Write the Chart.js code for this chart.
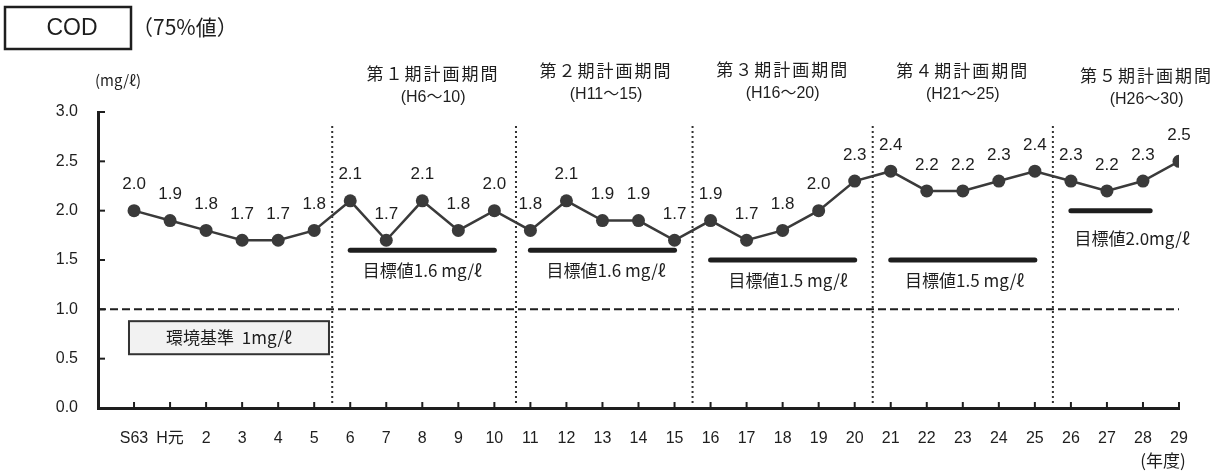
<!DOCTYPE html>
<html>
<head>
<meta charset="utf-8">
<script src="https://cdn.jsdelivr.net/npm/chart.js@4.4.1/dist/chart.umd.min.js"></script>
<style>
  html, body { margin: 0; padding: 0; background: #fff; }
  #wrap { width: 1215px; height: 472px; position: relative; }
</style>
</head>
<body>
<div id="wrap"><canvas id="codChart"></canvas></div>
<script>
// 年度 (x axis)
const years = ['S63', 'H元', '2', '3', '4', '5', '6', '7', '8', '9', '10',
    '11', '12', '13', '14', '15', '16', '17', '18', '19', '20',
    '21', '22', '23', '24', '25', '26', '27', '28', '29'];

// COD 75%値 (mg/ℓ)
const cod75 = [2.0, 1.9, 1.8, 1.7, 1.7, 1.8, 2.1, 1.7, 2.1, 1.8, 2.0,
    1.8, 2.1, 1.9, 1.9, 1.7, 1.9, 1.7, 1.8, 2.0, 2.3,
    2.4, 2.2, 2.2, 2.3, 2.4, 2.3, 2.2, 2.3, 2.5];

const yTicks = [0, 0.5, 1.0, 1.5, 2.0, 2.5, 3.0];

// 計画期間
const periodNames = ['第１期計画期間', '第２期計画期間', '第３期計画期間', '第４期計画期間', '第５期計画期間'];
const periodYears = ['(H6～10)', '(H11～15)', '(H16～20)', '(H21～25)', '(H26～30)'];
const periodStart = [6, 11, 16, 21, 26];
const periodEnd = [10, 15, 20, 25, 28.2];
const periodBreaks = [5.5, 10.6, 15.5, 20.5, 25.5];

// 目標値
const targetValues = [1.6, 1.6, 1.5, 1.5, 2.0];
const targetLabels = ['目標値1.6 mg/ℓ', '目標値1.6 mg/ℓ', '目標値1.5 mg/ℓ', '目標値1.5 mg/ℓ', '目標値2.0mg/ℓ'];

// 環境基準
const envStandard = 1.0;
const envLabel = '環境基準  1mg/ℓ';

const LATIN = "'Liberation Sans', 'Noto Sans CJK JP', sans-serif";
const JP = "'Noto Sans CJK JP', sans-serif";
const INK = '#1e1e1e';

const datasets = [];

datasets.push({
    label: 'COD',
    data: cod75.map((v, i) => ({ x: i, y: v })),
    borderColor: '#3a3a3a',
    backgroundColor: '#3a3a3a',
    borderWidth: 2.5,
    pointRadius: 6.5,
    pointBorderWidth: 0,
    pointBackgroundColor: '#3a3a3a'
});

targetValues.forEach((t, k) => {
    datasets.push({
        label: 'target' + k,
        data: [{ x: periodStart[k], y: t }, { x: periodEnd[k], y: t }],
        borderColor: INK,
        borderWidth: 5,
        borderCapStyle: 'round',
        pointRadius: 0
    });
});

datasets.push({
    label: 'env',
    data: [{ x: -1, y: envStandard }, { x: 29, y: envStandard }],
    borderColor: INK,
    borderWidth: 2,
    borderDash: [8, 4],
    pointRadius: 0
});

periodBreaks.forEach((b, k) => {
    datasets.push({
        label: 'break' + k,
        data: [{ x: b, y: 0.05 }, { x: b, y: 2.88 }],
        borderColor: '#333',
        borderWidth: 2,
        borderDash: [2, 3],
        pointRadius: 0
    });
});

const decorPlugin = {
    id: 'decor',
    afterDatasetsDraw(chart) {
        const ctx = chart.ctx;
        const xs = chart.scales.x;
        const ys = chart.scales.y;
        const area = chart.chartArea;
        ctx.save();

        // inner tick marks
        ctx.strokeStyle = INK;
        ctx.lineWidth = 2;
        yTicks.forEach(v => {
            const py = ys.getPixelForValue(v);
            ctx.beginPath();
            ctx.moveTo(area.left, py);
            ctx.lineTo(area.left + 7, py);
            ctx.stroke();
        });
        years.forEach((y, i) => {
            const px = xs.getPixelForValue(i);
            ctx.beginPath();
            ctx.moveTo(px, area.bottom);
            ctx.lineTo(px, area.bottom - 6);
            ctx.stroke();
        });

        // value labels
        const meta = chart.getDatasetMeta(0);
        ctx.fillStyle = INK;
        ctx.font = '17px ' + LATIN;
        ctx.textAlign = 'center';
        ctx.textBaseline = 'middle';
        meta.data.forEach((pt, i) => {
            ctx.fillText(cod75[i].toFixed(1), pt.x, pt.y - 26);
        });

        // period titles
        const titleX = [8.3, 13.1, 18.0, 23.0, 28.1];
        const titleY = [3.39, 3.42, 3.43, 3.42, 3.37];
        periodNames.forEach((name, k) => {
            const px = xs.getPixelForValue(titleX[k]);
            const py = ys.getPixelForValue(titleY[k]);
            ctx.font = '17px ' + JP;
            ctx.letterSpacing = '2px';
            ctx.fillText(name, px, py);
            ctx.letterSpacing = '0px';
            ctx.font = '16px ' + LATIN;
            ctx.fillText(periodYears[k], px, py + 24);
        });

        // target labels
        const tlX = [8.0, 13.1, 18.15, 23.05, 27.7];
        const tlY = [1.39, 1.39, 1.29, 1.29, 1.72];
        ctx.font = '17px ' + JP;
        targetLabels.forEach((txt, k) => {
            ctx.fillText(txt, xs.getPixelForValue(tlX[k]), ys.getPixelForValue(tlY[k]));
        });

        // environmental standard box
        const bx0 = xs.getPixelForValue(-0.14);
        const bx1 = xs.getPixelForValue(5.41);
        const by0 = ys.getPixelForValue(0.88);
        const by1 = ys.getPixelForValue(0.545);
        ctx.fillStyle = '#f2f2f2';
        ctx.fillRect(bx0, by0, bx1 - bx0, by1 - by0);
        ctx.strokeStyle = '#333';
        ctx.lineWidth = 2;
        ctx.strokeRect(bx0, by0, bx1 - bx0, by1 - by0);
        ctx.fillStyle = INK;
        ctx.font = '17px ' + JP;
        ctx.fillText(envLabel, (bx0 + bx1) / 2, (by0 + by1) / 2);

        // units
        ctx.font = '15px ' + JP;
        ctx.fillText('(mg/ℓ)', 118, 80);
        ctx.font = '17px ' + JP;
        ctx.fillText('(年度)', 1163, 461);

        // heading
        ctx.lineWidth = 2.5;
        ctx.strokeStyle = INK;
        ctx.strokeRect(5, 7, 126, 42);
        ctx.font = '23px "Liberation Sans", sans-serif';
        ctx.fillText('COD', 72, 29);
        ctx.textAlign = 'left';
        ctx.font = '21px ' + JP;
        ctx.fillText('（75%値）', 132, 27);

        ctx.restore();
    }
};

new Chart(document.getElementById('codChart'), {
    type: 'line',
    data: { datasets: datasets },
    options: {
        responsive: true,
        maintainAspectRatio: false,
        animation: false,
        layout: { padding: { top: 112, right: 36, left: 0, bottom: 0 } },
        plugins: {
            legend: { display: false },
            tooltip: { enabled: false }
        },
        scales: {
            x: {
                type: 'linear',
                min: -1,
                max: 29,
                afterFit: s => { s.height = 64; },
                grid: { display: false, drawTicks: false },
                border: { color: INK, width: 3 },
                ticks: {
                    stepSize: 1,
                    autoSkip: false,
                    maxRotation: 0,
                    padding: 21,
                    color: INK,
                    font: { size: 16, family: LATIN },
                    callback: v => years[v] !== undefined ? years[v] : ''
                }
            },
            y: {
                min: 0,
                max: 3,
                afterFit: s => { s.width = 98; },
                grid: { display: false, drawTicks: false },
                border: { color: INK, width: 3 },
                ticks: {
                    stepSize: 0.5,
                    padding: 20,
                    color: INK,
                    font: { size: 16, family: LATIN },
                    callback: v => v.toFixed(1)
                }
            }
        }
    },
    plugins: [decorPlugin]
});
</script>
</body>
</html>
